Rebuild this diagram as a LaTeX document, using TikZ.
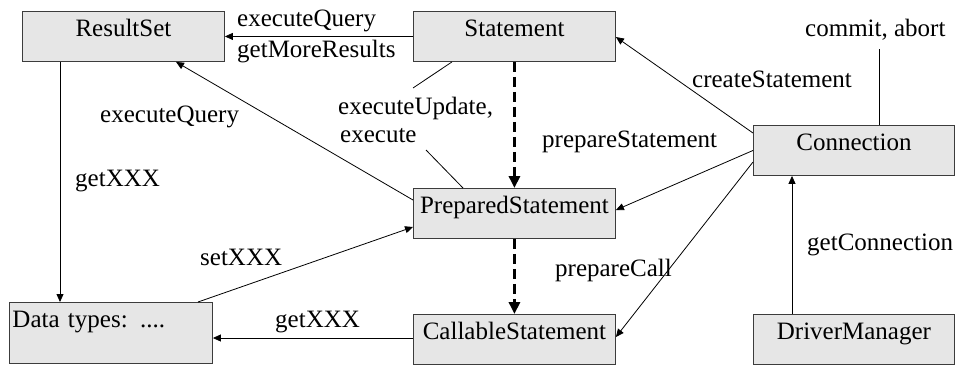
\documentclass[tikz,border=0pt]{standalone}
\usepackage{fontspec}
\setmainfont{Liberation Serif}
\usetikzlibrary{arrows.meta}
\definecolor{boxfill}{RGB}{230,230,230}
\definecolor{boxline}{RGB}{60,60,60}
\begin{document}
\begin{tikzpicture}[x=1pt,y=-1pt,
  every node/.style={font=\fontsize{25}{28}\selectfont},
  classbox/.style={draw=boxline, fill=boxfill, line width=0.9pt, anchor=north west,
    minimum width=202pt, minimum height=50pt, inner sep=0pt,
    text height=17pt, text depth=17pt},
  lbl/.style={anchor=base west, inner sep=0pt},
  link/.style={line width=0.8pt, draw=black},
  call/.style={link, -{Triangle[length=8pt,width=7pt]}},
  derive/.style={line width=3.5pt, dash pattern=on 10pt off 5pt,
    -{Triangle[length=12pt,width=11pt]}}
]
\useasboundingbox (0,0) rectangle (955,365);

% classes
\node[classbox] (RS) at (22,11)  {ResultSet};
\node[classbox] (ST) at (413,11) {Statement};
\node[classbox, minimum width=201pt] (CO) at (753,125) {Connection};
\node[classbox] (PS) at (413,188) {PreparedStatement};
\node[classbox, minimum width=203pt, minimum height=61pt, text width=197pt,
      align=left, text depth=27pt] (DT) at (9,302) {Data types: ....};
\node[classbox] (CS) at (413,314) {CallableStatement};
\node[classbox, minimum width=201pt] (DM) at (753,314) {DriverManager};

% method labels
\node[lbl] (l1) at (237,26)  {executeQuery};
\node[lbl] (l2) at (237,57)  {getMoreResults};
\node[lbl] (l3) at (100,122) {executeQuery};
\node[lbl] (l4) at (75,186)  {getXXX};
\node[lbl] (l5) at (200,265) {setXXX};
\node[lbl] (l6) at (275,327) {getXXX};
\node[lbl] (l7) at (338,114) {executeUpdate,};
\node[lbl] (l8) at (340,142) {execute};
\node[lbl] (l9) at (542,147) {prepareStatement};
\node[lbl] (l10) at (692,87) {createStatement};
\node[lbl] (l11) at (805,36) {commit, abort};
\node[lbl] (l12) at (555,276) {prepareCall};
\node[lbl] (l13) at (807,250) {getConnection};

\coordinate (u1) at (413,88);
\coordinate (u2) at (426,150);
\coordinate (c1) at (879,49);

% calls
\draw[call] (ST.west) -- (RS.east);
\draw[call] ([yshift=-12pt]PS.north west) -- ([xshift=154pt]RS.south west);
\draw[call] ([xshift=38pt]RS.south west) -- ([xshift=51pt]DT.north west);
\draw[call] ([xshift=189pt]DT.north west) -- ([yshift=-39pt]PS.north west);
\draw[call] ([yshift=-24pt]CS.north west) -- ([yshift=-36pt]DT.north east);
\draw[call] ([yshift=-8pt]CO.north west) -- ([yshift=-26pt]ST.north east);
\draw[call] (CO.west) -- ([yshift=-22pt]PS.north east);
\draw[call] ([yshift=-37pt]CO.north west) -- ([yshift=-23pt]CS.north east);
\draw[call] ([xshift=39pt]DM.north west) -- ([xshift=39pt]CO.south west);
\draw[link] ([xshift=126pt]CO.north west) -- (c1);
\draw[link] ([xshift=39pt]ST.south west) -- (u1);
\draw[link] (u2) -- ([xshift=50pt]PS.north west);

% inheritance
\draw[derive] (ST.south) -- (PS.north);
\draw[derive] (PS.south) -- (CS.north);
\end{tikzpicture}
\end{document}
